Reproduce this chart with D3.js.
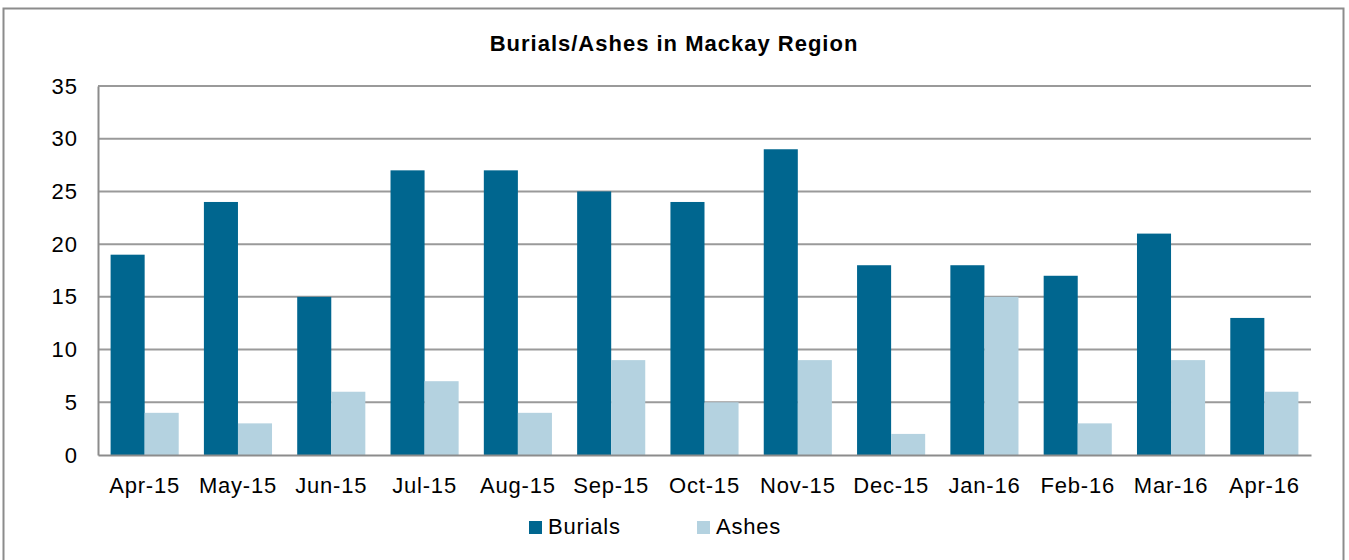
<!DOCTYPE html>
<html>
<head>
<meta charset="utf-8">
<script src="https://cdn.jsdelivr.net/npm/d3@7"></script>
<style>
  body { margin: 0; background: #fff; }
  svg text { font-family: "Liberation Sans", Arial, sans-serif; fill: #000; }
</style>
</head>
<body>
<div id="chart"></div>
<script>
const months = ["Apr-15", "May-15", "Jun-15", "Jul-15", "Aug-15", "Sep-15", "Oct-15",
  "Nov-15", "Dec-15", "Jan-16", "Feb-16", "Mar-16", "Apr-16"]
const burials = [19, 24, 15, 27, 27, 25, 24, 29, 18, 18, 17, 21, 13]
const ashes = [4, 3, 6, 7, 4, 9, 5, 9, 2, 15, 3, 9, 6]
const seriesNames = ["Burials", "Ashes"]
const yTicks = [0, 5, 10, 15, 20, 25, 30, 35]

const W = 1349, H = 560
const MARGIN = {TOP: 86, RIGHT: 38, BOTTOM: 105, LEFT: 98}
const WIDTH = W - MARGIN.LEFT - MARGIN.RIGHT
const HEIGHT = H - MARGIN.TOP - MARGIN.BOTTOM
const colors = {Burials: "#00668f", Ashes: "#b4d2e0"}

const svg = d3.select("#chart").append("svg")
  .attr("width", W)
  .attr("height", H)

// outer chart border
svg.append("rect")
  .attr("x", 3.5).attr("y", 8.5)
  .attr("width", 1340).attr("height", 560)
  .attr("fill", "none")
  .attr("stroke", "#8c8c8c")
  .attr("stroke-width", 2)

svg.append("text")
  .attr("x", 674)
  .attr("y", 51)
  .attr("text-anchor", "middle")
  .attr("font-size", "22px")
  .attr("font-weight", "bold")
  .attr("letter-spacing", "1px")
  .text("Burials/Ashes in Mackay Region")

const g = svg.append("g")
  .attr("transform", `translate(${MARGIN.LEFT}, ${MARGIN.TOP})`)

const x = d3.scaleBand()
  .domain(months)
  .range([0, WIDTH])
  .paddingInner(0.27)
  .paddingOuter(0.135)

const x1 = d3.scaleBand()
  .domain(seriesNames)
  .range([0, x.bandwidth()])

const y = d3.scaleLinear()
  .domain([0, 35])
  .range([HEIGHT, 0])

// gridlines
g.append("g")
  .selectAll("line")
  .data(yTicks.slice(1))
  .enter().append("line")
    .attr("x1", 0)
    .attr("x2", WIDTH)
    .attr("y1", d => y(d))
    .attr("y2", d => y(d))
    .attr("stroke", "#9a9a9a")
    .attr("stroke-width", 2)

const rows = months.map((m, i) => ({month: m, Burials: burials[i], Ashes: ashes[i]}))

const groups = g.selectAll("g.month")
  .data(rows)
  .enter().append("g")
    .attr("class", "month")
    .attr("transform", d => `translate(${x(d.month)}, 0)`)

groups.selectAll("rect")
  .data(d => seriesNames.map(s => ({key: s, value: d[s]})))
  .enter().append("rect")
    .attr("x", d => x1(d.key))
    .attr("y", d => y(d.value))
    .attr("width", x1.bandwidth())
    .attr("height", d => HEIGHT - y(d.value))
    .attr("fill", d => colors[d.key])

// axes
const yAxis = g.append("g")
  .call(d3.axisLeft(y).tickValues(yTicks).tickSize(0).tickPadding(20))
yAxis.select(".domain").attr("stroke", "#8c8c8c").attr("stroke-width", 2)
yAxis.selectAll("text").attr("font-size", "22px").attr("letter-spacing", "1px")

const xAxis = g.append("g")
  .attr("transform", `translate(0, ${HEIGHT})`)
  .call(d3.axisBottom(x).tickSize(0).tickPadding(22))
xAxis.select(".domain").attr("stroke", "#8c8c8c").attr("stroke-width", 2)
xAxis.selectAll("text").attr("font-size", "22px").attr("letter-spacing", "0.8px")

// legend
const legend = svg.append("g")
const legendX = [529, 697]
seriesNames.forEach((s, i) => {
  legend.append("rect")
    .attr("x", legendX[i]).attr("y", 521)
    .attr("width", 13).attr("height", 13)
    .attr("fill", colors[s])
  legend.append("text")
    .attr("x", legendX[i] + 19)
    .attr("y", 534)
    .attr("font-size", "22px")
    .attr("letter-spacing", "0.8px")
    .text(s)
})
</script>
</body>
</html>
